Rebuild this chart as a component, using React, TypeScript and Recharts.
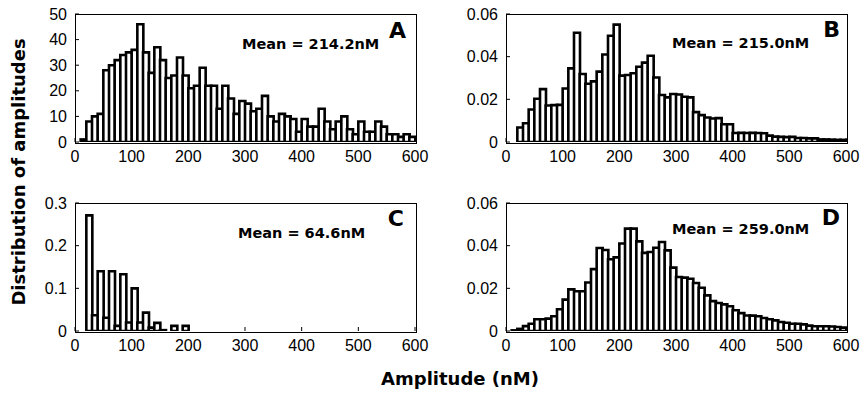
import React from 'react';
import { BarChart, Bar, XAxis, YAxis } from 'recharts';

// Histogram bin starts (nM), 10 nM bins
const binStarts = [
  0, 10, 20, 30, 40, 50, 60, 70, 80, 90,
  100, 110, 120, 130, 140, 150, 160, 170, 180, 190,
  200, 210, 220, 230, 240, 250, 260, 270, 280, 290,
  300, 310, 320, 330, 340, 350, 360, 370, 380, 390,
  400, 410, 420, 430, 440, 450, 460, 470, 480, 490,
  500, 510, 520, 530, 540, 550, 560, 570, 580, 590,
];
const binMids = [
  5, 15, 25, 35, 45, 55, 65, 75, 85, 95,
  105, 115, 125, 135, 145, 155, 165, 175, 185, 195,
  205, 215, 225, 235, 245, 255, 265, 275, 285, 295,
  305, 315, 325, 335, 345, 355, 365, 375, 385, 395,
  405, 415, 425, 435, 445, 455, 465, 475, 485, 495,
  505, 515, 525, 535, 545, 555, 565, 575, 585, 595,
];
const xTicks = [0, 100, 200, 300, 400, 500, 600];

const valuesA = [
  0, 1, 8, 10, 11, 28, 30, 32, 34, 35,
  36, 46, 35, 27, 37, 32, 25, 26, 33, 26,
  21, 22, 29, 22, 22, 13, 22, 17, 11, 16,
  15, 12, 13, 18, 10, 8, 11, 10, 9, 4,
  9, 6, 6, 13, 8, 5, 8, 10, 5, 3,
  8, 4, 4, 8, 6, 3, 3, 2, 3, 2,
];
const valuesB = [
  0, 0, 0.0068, 0.0088, 0.0152, 0.0203, 0.0248, 0.0171, 0.0173, 0.0174,
  0.0251, 0.0345, 0.0512, 0.0319, 0.0273, 0.0284, 0.033, 0.041, 0.0498, 0.055,
  0.0311, 0.0314, 0.0322, 0.0353, 0.0372, 0.0404, 0.0302, 0.022, 0.0209, 0.0225,
  0.0223, 0.0212, 0.0209, 0.014, 0.0126, 0.0115, 0.011, 0.0112, 0.0083, 0.0083,
  0.0042, 0.0043, 0.0042, 0.0043, 0.0042, 0.0041, 0.003, 0.0025, 0.0024, 0.0023,
  0.0024, 0.0019, 0.0019, 0.0017, 0.0017, 0.0012, 0.0012, 0.0011, 0.001, 0.001,
];
const valuesC = [
  0, 0, 0.271, 0.037, 0.14, 0.031, 0.14, 0.012, 0.133, 0.02,
  0.1, 0.02, 0.043, 0.008, 0.019, 0.002, 0, 0.012, 0, 0.012,
  0, 0, 0, 0, 0, 0, 0, 0, 0, 0,
  0, 0, 0, 0, 0, 0, 0, 0, 0, 0,
  0, 0, 0, 0, 0, 0, 0, 0, 0, 0,
  0, 0, 0, 0, 0, 0, 0, 0, 0, 0,
];
const valuesD = [
  0, 0.0003, 0.001, 0.0023, 0.0034, 0.0055, 0.0055, 0.0058, 0.0069, 0.0102,
  0.0147, 0.0195, 0.0186, 0.0186, 0.0227, 0.029, 0.0389, 0.038, 0.0336, 0.0345,
  0.041, 0.048, 0.048, 0.042, 0.0366, 0.037, 0.039, 0.0417, 0.0378, 0.0297,
  0.0253, 0.025, 0.0245, 0.0225, 0.0203, 0.0167, 0.014, 0.0131, 0.0125, 0.0116,
  0.0097, 0.0084, 0.0073, 0.0072, 0.0069, 0.0061, 0.0055, 0.005, 0.0042, 0.0039,
  0.0034, 0.0034, 0.0031, 0.0025, 0.0022, 0.0022, 0.0022, 0.0021, 0.0019, 0.0016,
];

const yTicksA = [0, 10, 20, 30, 40, 50];
const yTicksB = [0, 0.02, 0.04, 0.06];
const yTicksC = [0, 0.1, 0.2, 0.3];
const yTicksD = [0, 0.02, 0.04, 0.06];

const meanLabels = ['Mean = 214.2nM', 'Mean = 215.0nM', 'Mean = 64.6nM', 'Mean = 259.0nM'];
const panelLetters = ['A', 'B', 'C', 'D'];
const xLabel = 'Amplitude (nM)';
const yLabel = 'Distribution of amplitudes';

const PLOT_W = 340;
const PLOT_H = 128;
const AX_W = 60;
const AX_H = 30;
const PAD = 10;
const PAD_R = 22;

const tickStyle = { fill: '#000', fontSize: 16, fontFamily: 'Liberation Sans, Arial, sans-serif' };
const lineStyle = { stroke: '#000', strokeWidth: 1 };

type PanelProps = { values: number[]; yTicks: number[]; left: number; top: number };

function Panel({ values, yTicks, left, top }: PanelProps) {
  const data = binStarts.map((b, i) => ({ bin: b, mid: binMids[i], v: values[i] }));
  const yMax = yTicks[yTicks.length - 1];
  return (
    <div style={{ position: 'absolute', left: left - AX_W, top: top - PAD }}>
      <BarChart
        width={AX_W + PLOT_W + PAD_R}
        height={PAD + PLOT_H + AX_H}
        data={data}
        margin={{ top: PAD, right: PAD_R, left: 0, bottom: 0 }}
        barCategoryGap={0}
        barGap={0}
      >
        <XAxis
          xAxisId="num"
          dataKey="mid"
          type="number"
          domain={[0, 600]}
          ticks={xTicks}
          allowDataOverflow
          interval={0}
          height={AX_H}
          tickSize={-4}
          tickMargin={13}
          tick={tickStyle}
          axisLine={false}
          tickLine={lineStyle}
        />
        <XAxis xAxisId="cat" dataKey="bin" type="category" hide height={0} />
        <XAxis
          xAxisId="top"
          orientation="top"
          dataKey="mid"
          type="number"
          domain={[0, 600]}
          ticks={xTicks}
          allowDataOverflow
          interval={0}
          height={0}
          tickSize={-4}
          tick={false}
          axisLine={false}
          tickLine={lineStyle}
        />
        <YAxis
          yAxisId="left"
          type="number"
          domain={[0, yMax]}
          ticks={yTicks}
          allowDataOverflow
          interval={0}
          width={AX_W}
          tickSize={-4}
          tickMargin={12}
          tick={tickStyle}
          axisLine={false}
          tickLine={lineStyle}
        />
        <YAxis
          yAxisId="right"
          orientation="right"
          type="number"
          domain={[0, yMax]}
          ticks={yTicks}
          allowDataOverflow
          interval={0}
          width={0}
          tickSize={-4}
          tick={false}
          axisLine={false}
          tickLine={lineStyle}
        />
        <Bar
          xAxisId="cat"
          yAxisId="left"
          dataKey="v"
          fill="#fff"
          stroke="#000"
          strokeWidth={2.6}
          isAnimationActive={false}
        />
      </BarChart>
      <div
        style={{
          position: 'absolute',
          left: AX_W - 0.5,
          top: PAD - 0.5,
          width: PLOT_W,
          height: PLOT_H,
          border: '1px solid #000',
          pointerEvents: 'none',
        }}
      />
    </div>
  );
}

const boldFont = 'DejaVu Sans, Arial, sans-serif';

export default function App() {
  return (
    <div style={{ position: 'absolute', left: 0, top: 0, width: 861, height: 393, background: '#fff', overflow: 'hidden' }}>
      <Panel values={valuesA} yTicks={yTicksA} left={75} top={14} />
      <Panel values={valuesB} yTicks={yTicksB} left={506} top={14} />
      <Panel values={valuesC} yTicks={yTicksC} left={75} top={203} />
      <Panel values={valuesD} yTicks={yTicksD} left={506} top={203} />
      <svg width={861} height={393} style={{ position: 'absolute', left: 0, top: 0, pointerEvents: 'none' }}>
        <g fontFamily={boldFont} fontWeight="bold" fill="#000">
          <text x={406} y={38} fontSize={22} textAnchor="end">{panelLetters[0]}</text>
          <text x={840} y={37} fontSize={22} textAnchor="end">{panelLetters[1]}</text>
          <text x={404} y={226} fontSize={22} textAnchor="end">{panelLetters[2]}</text>
          <text x={840} y={225} fontSize={22} textAnchor="end">{panelLetters[3]}</text>
          <text x={242} y={49} fontSize={14.5}>{meanLabels[0]}</text>
          <text x={672} y={47.5} fontSize={14.5}>{meanLabels[1]}</text>
          <text x={238} y={238} fontSize={14.5}>{meanLabels[2]}</text>
          <text x={672} y={234} fontSize={14.5}>{meanLabels[3]}</text>
          <text x={460} y={385} fontSize={18} textAnchor="middle">{xLabel}</text>
          <text transform="translate(25,172) rotate(-90)" fontSize={18} textAnchor="middle">{yLabel}</text>
        </g>
      </svg>
    </div>
  );
}
